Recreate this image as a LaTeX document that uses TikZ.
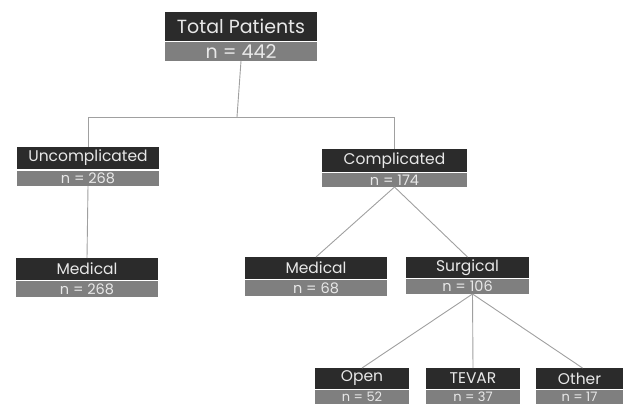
\documentclass[tikz,border=0pt]{standalone}
\usepackage{fontspec}
\setmainfont{Poppins}
\definecolor{darkband}{HTML}{2B2B2B}
\definecolor{grayband}{HTML}{7F7F7F}
\definecolor{boxtext}{HTML}{E8E8E8}
\definecolor{linkcol}{HTML}{A0A0A0}
\begin{document}
\begin{tikzpicture}[x=1pt,y=-1pt,
  band/.style={anchor=north west, inner sep=0pt, outer sep=0pt, text=boxtext},
  dark/.style={band, fill=darkband},
  grey/.style={band, fill=grayband},
  bigtext/.style={font=\fontsize{19}{19}\selectfont},
  midtext/.style={font=\fontsize{15.5}{15.5}\selectfont},
  smalltext/.style={font=\fontsize{14.5}{14.5}\selectfont},
  lowtext/.style={font=\fontsize{13}{13}\selectfont, text height=9.5pt, text depth=0pt},
  link/.style={draw=linkcol, line width=0.9pt}]
\useasboundingbox (0,0) rectangle (623,406);
% Total
\node[dark, bigtext, minimum width=152, minimum height=29] (tot) at (165,12) {Total Patients};
\node[grey, bigtext, minimum width=152, minimum height=19] (totn) at (165,42) {n = 442};
% Uncomplicated
\node[dark, midtext, minimum width=142, minimum height=22] (unc) at (17,147) {Uncomplicated};
\node[grey, smalltext, minimum width=142, minimum height=15] (uncn) at (17,171) {n = 268};
% Complicated
\node[dark, midtext, minimum width=145, minimum height=23] (comp) at (322,149) {Complicated};
\node[grey, smalltext, minimum width=145, minimum height=14] (compn) at (322,173) {n = 174};
% Medical 1
\node[dark, midtext, minimum width=142, minimum height=22] (med1) at (16,258) {Medical};
\node[grey, smalltext, minimum width=142, minimum height=16] (med1n) at (16,281) {n = 268};
% Medical 2
\node[dark, midtext, minimum width=142, minimum height=22] (med2) at (245,257) {Medical};
\node[grey, smalltext, minimum width=142, minimum height=16] (med2n) at (245,280) {n = 68};
% Surgical
\node[dark, midtext, minimum width=123, minimum height=21] (surg) at (406,257) {Surgical};
\node[grey, smalltext, minimum width=123, minimum height=15] (surgn) at (406,279) {n = 106};
% Bottom row
\node[dark, midtext, minimum width=94, minimum height=21] (open) at (315,368) {Open};
\node[grey, lowtext, minimum width=94, minimum height=14] (openn) at (315,390) {n = 52};
\node[dark, midtext, minimum width=94, minimum height=21] (tevar) at (426,368) {TEVAR};
\node[grey, lowtext, minimum width=94, minimum height=14] (tevarn) at (426,390) {n = 37};
\node[dark, midtext, minimum width=87, minimum height=21] (other) at (536,368) {Other};
\node[grey, lowtext, minimum width=87, minimum height=14] (othern) at (536,390) {n = 17};
% Connectors
\coordinate (split) at (237,117);
\draw[link] (totn.south) -- (split);
\draw[link] (split) -| (unc.north);
\draw[link] (split) -| (comp.north);
\draw[link] (uncn.south) -- (med1.north);
\draw[link] (compn.south) -- (med2.north);
\draw[link] (compn.south) -- (surg.north);
\draw[link] ([xshift=5pt]surgn.south) -- (open.north);
\draw[link] ([xshift=5pt]surgn.south) -- (tevar.north);
\draw[link] ([xshift=5pt]surgn.south) -- ([xshift=3pt]other.north);
\end{tikzpicture}
\end{document}
